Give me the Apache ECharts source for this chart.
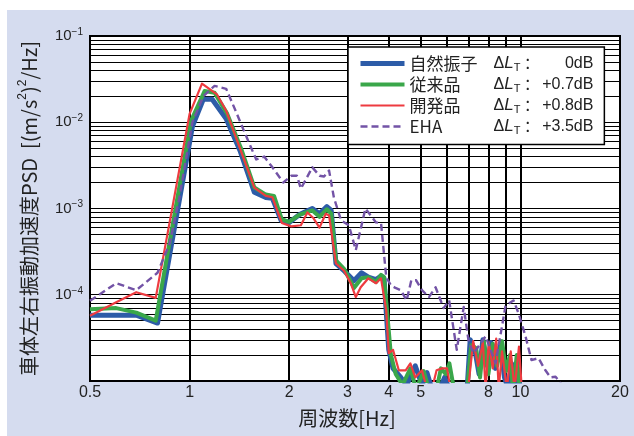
<!DOCTYPE html>
<html>
<head>
<meta charset="utf-8">
<script src="https://cdn.jsdelivr.net/npm/echarts@6/dist/echarts.min.js"></script>
<style>
html, body { margin: 0; padding: 0; background: #fff; }
#chart { width: 634px; height: 436px; }
</style>
</head>
<body>
<div id="chart"></div>
<script>
// 読み取り値 [周波数 Hz, PSD (m/s2)2/Hz]
const naturalData = [
  [0.5, 5.8e-5], [0.69, 5.8e-5], [0.80, 4.7e-5], [1.02, 9.0e-3], [1.10, 1.85e-2], [1.17, 1.85e-2],
  [1.29, 1.1e-2], [1.42, 4.7e-3], [1.57, 1.54e-3], [1.70, 1.34e-3], [1.78, 1.31e-3], [1.89, 7.3e-4],
  [2.0, 6.9e-4], [2.15, 8.5e-4], [2.35, 1.0e-3], [2.47, 8.7e-4], [2.60, 1.05e-3], [2.68, 9.5e-4],
  [2.77, 2.3e-4], [2.93, 1.9e-4], [3.14, 1.45e-4], [3.31, 1.8e-4], [3.47, 1.6e-4], [3.66, 1.5e-4],
  [3.79, 1.65e-4], [3.87, 1.55e-4], [4.0, 2.3e-5], [4.12, 1.4e-5], [4.35, 1.1e-5], [4.53, 9e-6],
  [4.81, 1.5e-5], [5.04, 9e-6], [5.22, 1.25e-5], [5.40, 8e-6], [5.7, 8e-6], [5.9, 1.1e-5], [6.1, 8e-6],
  [6.9, 8e-6], [7.05, 3.0e-5], [7.3, 2.2e-5], [7.5, 1.2e-5], [7.7, 3.0e-5], [7.95, 1.5e-5], [8.15, 2.8e-5],
  [8.4, 1.4e-5], [8.7, 2.7e-5], [8.95, 1.1e-5], [9.2, 8e-6], [9.4, 1.6e-5], [9.6, 8e-6], [9.8, 1.4e-5], [10.0, 8e-6]
];
const conventionalData = [
  [0.5, 6.8e-5], [0.6, 7.0e-5], [0.69, 6.2e-5], [0.79, 5.0e-5], [1.01, 1.04e-2], [1.11, 2.3e-2],
  [1.19, 2.2e-2], [1.30, 1.25e-2], [1.43, 5.0e-3], [1.57, 1.75e-3], [1.70, 1.45e-3], [1.80, 1.4e-3],
  [1.90, 7.5e-4], [2.0, 7.0e-4], [2.15, 8.5e-4], [2.35, 9.5e-4], [2.47, 8.0e-4], [2.60, 9.8e-4],
  [2.68, 8.7e-4], [2.77, 2.5e-4], [2.93, 2.0e-4], [3.14, 1.2e-4], [3.31, 1.55e-4], [3.47, 1.6e-4],
  [3.66, 1.4e-4], [3.79, 1.7e-4], [3.87, 1.6e-4], [4.06, 2.0e-5], [4.2, 1.2e-5], [4.4, 9e-6],
  [4.65, 1.4e-5], [4.84, 8e-6], [5.1, 1.3e-5], [5.29, 8e-6], [5.58, 8e-6], [5.75, 1.4e-5], [5.95, 1.2e-5],
  [6.1, 1.6e-5], [6.3, 8e-6], [6.9, 8e-6], [7.1, 2.6e-5], [7.35, 2.4e-5], [7.55, 1.1e-5], [7.75, 2.9e-5],
  [8.0, 1.2e-5], [8.25, 2.7e-5], [8.5, 1.5e-5], [8.8, 2.9e-5], [9.05, 1.3e-5], [9.3, 2.0e-5], [9.5, 8e-6],
  [9.75, 2.0e-5], [9.95, 8e-6]
];
const developedData = [
  [0.5, 5.7e-5], [0.6, 8.2e-5], [0.69, 1.07e-4], [0.79, 9.2e-5], [1.0, 1.25e-2], [1.09, 2.8e-2],
  [1.21, 2.1e-2], [1.29, 1.36e-2], [1.57, 1.75e-3], [1.70, 1.4e-3], [1.78, 1.35e-3], [1.90, 6.8e-4],
  [2.03, 6.2e-4], [2.17, 6.4e-4], [2.27, 9.0e-4], [2.37, 7.7e-4], [2.47, 6.0e-4], [2.58, 8.7e-4],
  [2.64, 8.3e-4], [2.77, 2.3e-4], [2.93, 1.9e-4], [3.07, 1.36e-4], [3.18, 9.4e-5], [3.29, 1.22e-4],
  [3.47, 1.55e-4], [3.66, 1.36e-4], [3.79, 1.55e-4], [3.93, 6.6e-5], [4.0, 2.1e-5], [4.12, 2.3e-5],
  [4.29, 1.33e-5], [4.5, 1.33e-5], [4.65, 1.6e-5], [4.81, 1.1e-5], [5.04, 1.33e-5], [5.22, 8e-6],
  [5.4, 8e-6], [5.58, 1.33e-5], [5.8, 1.4e-5], [6.0, 1.4e-5], [6.15, 8e-6], [6.95, 8e-6], [7.2, 2.9e-5],
  [7.45, 1.5e-5], [7.7, 2.8e-5], [7.85, 8e-6], [8.02, 2.8e-5], [8.25, 1.4e-5], [8.45, 3.1e-5], [8.6, 8e-6],
  [8.8, 2.2e-5], [9.1, 8e-6], [9.35, 2.2e-5], [9.6, 8e-6], [9.9, 2.5e-5], [10.1, 8e-6]
];
const ehaData = [
  [0.5, 8.5e-5], [0.6, 1.36e-4], [0.69, 1.13e-4], [0.8, 1.8e-4], [0.87, 3.9e-4], [0.93, 1.3e-3],
  [1.02, 1.0e-2], [1.1, 2.0e-2], [1.19, 2.64e-2], [1.29, 2.44e-2], [1.39, 1.25e-2], [1.49, 6.6e-3],
  [1.59, 3.7e-3], [1.68, 4.0e-3], [1.78, 3.0e-3], [1.92, 2.0e-3], [2.03, 2.4e-3], [2.11, 2.4e-3],
  [2.17, 1.7e-3], [2.35, 3.0e-3], [2.47, 2.4e-3], [2.55, 2.35e-3], [2.64, 2.76e-3], [2.73, 1.34e-3],
  [2.87, 7.3e-4], [3.03, 6.4e-4], [3.18, 3.3e-4], [3.40, 1.0e-3], [3.66, 6.9e-4], [3.79, 6.8e-4],
  [3.93, 1.6e-4], [4.06, 1.29e-4], [4.19, 1.2e-4], [4.35, 1.13e-4], [4.53, 8.6e-5], [4.68, 1.47e-4],
  [4.84, 1.47e-4], [5.04, 1.13e-4], [5.29, 9.4e-5], [5.54, 1.22e-4], [5.86, 7.0e-5], [6.09, 8.6e-5],
  [6.42, 2.3e-5], [6.74, 7.2e-5], [6.98, 2.8e-5], [7.22, 2.1e-5], [7.85, 3.3e-5], [8.41, 1.6e-5],
  [9.02, 7.5e-5], [9.53, 8.6e-5], [9.87, 6.1e-5], [10.36, 3.3e-5], [10.8, 1.75e-5], [11.34, 1.84e-5],
  [11.9, 1.33e-5], [12.33, 1.1e-5], [12.77, 1.12e-5], [13.7, 8e-6]
];

const seriesNames = ['自然振子', '従来品', '開発品', 'EHA'];
const deltaLabels = ['0dB', '+0.7dB', '+0.8dB', '+3.5dB'];
const xTickValues = [0.5, 1, 2, 3, 4, 5, 8, 10, 20];
const xGridValues = [1, 2, 3, 4, 5, 6, 7, 8, 9, 10];
const yDecades = [-5, -4, -3, -2];
const yMinorSteps = [1, 2, 3, 4, 5, 6, 7, 8, 9];

const FONT = '"Liberation Sans", Arial, "Noto Sans CJK JP", sans-serif';
const CJK = '"Noto Sans CJK JP", "Liberation Sans", sans-serif';

const chart = echarts.init(document.getElementById('chart'));

// 罫線（縦は1〜10Hz、横は各桁の1〜9倍）
const gridLines = [];
yDecades.forEach(e => {
  yMinorSteps.forEach(m => {
    if (e === -5 && m === 1) return;
    gridLines.push({ yAxis: m * Math.pow(10, e), lineStyle: { color: '#000', width: 1.2, type: 'solid' } });
  });
});
xTickValues.forEach(v => {
  const isLine = xGridValues.indexOf(v) >= 0;
  gridLines.push({
    xAxis: v,
    lineStyle: { color: isLine ? '#000' : 'rgba(0,0,0,0)', width: 2, type: 'solid' },
    label: { show: true, position: 'start', formatter: String(v), color: '#222', fontSize: 16, fontFamily: FONT, distance: 4 }
  });
});
xGridValues.forEach(v => {
  if (xTickValues.indexOf(v) >= 0) return;
  gridLines.push({ xAxis: v, lineStyle: { color: '#000', width: 2, type: 'solid' } });
});

const lineColors = ['#2d5ca8', '#3aa74a', '#ee3b40', '#7353a6'];
const lineWidths = [5, 4, 2.2, 2.4];
const dataSets = [naturalData, conventionalData, developedData, ehaData];

const series = [{
  type: 'line',
  data: [],
  silent: true,
  z: 1,
  markLine: {
    z: 1,
    silent: true,
    animation: false,
    precision: 12,
    symbol: ['none', 'none'],
    label: { show: false },
    emphasis: { disabled: true },
    data: gridLines
  }
}];
dataSets.forEach((d, i) => {
  series.push({
    name: seriesNames[i],
    type: 'line',
    data: d,
    z: 10 + i,
    symbol: 'none',
    clip: true,
    animation: false,
    lineStyle: {
      color: lineColors[i],
      width: lineWidths[i],
      type: i === 3 ? [7, 4] : 'solid',
      join: 'round'
    },
    itemStyle: { color: lineColors[i] }
  });
});

chart.setOption({
  backgroundColor: '#fff',
  animation: false,
  graphic: [{
    type: 'rect',
    z: -1,
    silent: true,
    shape: { x: 7, y: 10, width: 627, height: 426 },
    style: { fill: '#d5dcef' }
  }],
  grid: {
    left: 90, top: 36, right: 14, bottom: 55,
    show: true,
    backgroundColor: '#fff',
    borderColor: '#000',
    borderWidth: 2
  },
  legend: {
    data: seriesNames,
    orient: 'vertical',
    left: 348,
    top: 47,
    itemWidth: 44,
    itemHeight: 14,
    itemGap: 2.5,
    padding: [8, 11, 8, 10],
    backgroundColor: '#fff',
    borderColor: '#000',
    borderWidth: 1.5,
    selectedMode: false,
    itemStyle: { opacity: 0 },
    lineStyle: { width: 'inherit', type: 'inherit' },
    formatter: name => {
      const i = seriesNames.indexOf(name);
      return '{n|' + name + '}{d|Δ}{l|L}{t|T}{c|：}{v|' + deltaLabels[i] + '}';
    },
    textStyle: {
      color: '#222',
      fontFamily: FONT,
      rich: {
        n: { fontSize: 17, fontFamily: CJK, width: 84, lineHeight: 20, color: '#222' },
        d: { fontSize: 16, fontFamily: FONT, lineHeight: 20, color: '#222' },
        l: { fontSize: 17, fontFamily: FONT, fontStyle: 'italic', lineHeight: 20, color: '#222' },
        t: { fontSize: 11, fontFamily: FONT, lineHeight: 12, verticalAlign: 'bottom', color: '#222' },
        c: { fontSize: 15, fontFamily: CJK, lineHeight: 20, color: '#222' },
        v: { fontSize: 16, fontFamily: FONT, width: 58, align: 'right', lineHeight: 20, color: '#222' }
      }
    }
  },
  xAxis: {
    type: 'log',
    logBase: 10,
    min: 0.5,
    max: 20,
    axisLine: { show: false },
    axisTick: { show: false },
    axisLabel: { show: false },
    splitLine: { show: false },
    minorSplitLine: { show: false },
    name: '周波数[Hz]',
    nameLocation: 'middle',
    nameGap: 27,
    nameTextStyle: { fontSize: 20, fontFamily: CJK, color: '#222', padding: [0, 16, 0, 0] }
  },
  yAxis: {
    type: 'log',
    logBase: 10,
    min: 1e-5,
    max: 1e-1,
    axisLine: { show: false },
    axisTick: { show: false },
    splitLine: { show: false },
    axisLabel: {
      margin: 7,
      formatter: v => {
        const e = Math.round(Math.log10(v));
        if (e <= -5) return '';
        return '{b|10}{s|−' + (-e) + '}';
      },
      rich: {
        b: { fontSize: 15, fontFamily: FONT, color: '#222', lineHeight: 18 },
        s: { fontSize: 10, fontFamily: FONT, color: '#222', lineHeight: 10, verticalAlign: 'top' }
      }
    },
    name: '{a|車体左右振動加速度PSD  [(m/s}{s|2}{a|)}{s|2}{a|/Hz]}',
    nameLocation: 'middle',
    nameGap: 49,
    nameTextStyle: {
      rich: {
        a: { fontSize: 20, fontFamily: CJK, color: '#222', lineHeight: 24 },
        s: { fontSize: 12, fontFamily: FONT, color: '#222', lineHeight: 12, verticalAlign: 'top' }
      }
    }
  },
  series: series
});
</script>
</body>
</html>
